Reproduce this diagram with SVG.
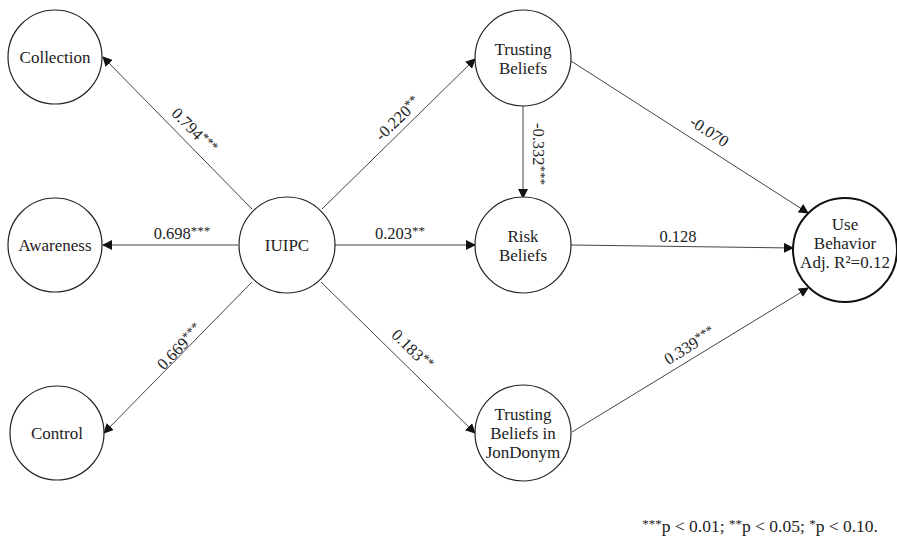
<svg xmlns="http://www.w3.org/2000/svg" width="897" height="540" viewBox="0 0 897 540">
<defs>
<marker id="arr" markerWidth="10" markerHeight="10" refX="9" refY="5" orient="auto" markerUnits="userSpaceOnUse">
<path d="M0,0 L10,5 L0,10 z" fill="#111"/>
</marker>
<style>
.node{fill:#fff;stroke:#222;stroke-width:1.2}
.ub{fill:#fff;stroke:#111;stroke-width:2}
text{font-family:'Liberation Serif','Times New Roman',serif}
.nt{font-size:17px;fill:#222;text-anchor:middle}
.edge{stroke:#444;stroke-width:1;fill:none;marker-end:url(#arr)}
.lbl{font-size:16.5px;fill:#222;text-anchor:middle}
.st{font-size:13px}
.fn{font-size:17.5px;fill:#222;text-anchor:end}
</style>
</defs>
<rect width="897" height="540" fill="#fff"/>
<g id="connectors">
<line class="edge" x1="252" y1="209" x2="103" y2="57"/>
<line class="edge" x1="238" y1="245" x2="103" y2="245"/>
<line class="edge" x1="252" y1="282" x2="104" y2="433"/>
<line class="edge" x1="322" y1="209" x2="475" y2="59"/>
<line class="edge" x1="335" y1="245" x2="475" y2="245"/>
<line class="edge" x1="321" y1="282" x2="475" y2="433"/>
<line class="edge" x1="523" y1="106" x2="523" y2="198"/>
<line class="edge" x1="571" y1="61" x2="808" y2="213"/>
<line class="edge" x1="571" y1="245" x2="793" y2="248"/>
<line class="edge" x1="572" y1="432" x2="808" y2="288"/>
<g id="labels">
<text class="lbl" transform="translate(194,131) rotate(45.6)" dy="5">0.794<tspan class="st" dy="-4">***</tspan></text>
<text class="lbl" x="182" y="239">0.698<tspan class="st" dy="-4">***</tspan></text>
<text class="lbl" transform="translate(180,347) rotate(-45.6)" dy="5">0.669<tspan class="st" dy="-4">***</tspan></text>
<text class="lbl" transform="translate(398,119) rotate(-44)" dy="5">-0.220<tspan class="st" dy="-4">**</tspan></text>
<text class="lbl" x="400" y="239">0.203<tspan class="st" dy="-4">**</tspan></text>
<text class="lbl" transform="translate(412,350) rotate(44.4)" dy="5">0.183<tspan class="st" dy="-4">**</tspan></text>
<text class="lbl" transform="translate(538,154) rotate(90)" dy="5">-0.332<tspan class="st" dy="-4">***</tspan></text>
<text class="lbl" transform="translate(709,132) rotate(33)" dy="5">-0.070</text>
<text class="lbl" x="678" y="242">0.128</text>
<text class="lbl" transform="translate(690,346) rotate(-31.7)" dy="5">0.339<tspan class="st" dy="-4">***</tspan></text>
</g>
</g>
<g id="collection"><circle class="node" cx="55" cy="57" r="47"/><text class="nt" x="55" y="63">Collection</text></g>
<g id="awareness"><circle class="node" cx="55" cy="245" r="47"/><text class="nt" x="55" y="251">Awareness</text></g>
<g id="control"><circle class="node" cx="57" cy="433" r="47"/><text class="nt" x="57" y="439">Control</text></g>
<g id="iuipc"><circle class="node" cx="287" cy="245" r="48"/><text class="nt" x="287" y="251">IUIPC</text></g>
<g id="trusting"><circle class="node" cx="523" cy="58" r="48"/><text class="nt" x="523" y="55">Trusting</text><text class="nt" x="523" y="74">Beliefs</text></g>
<g id="risk"><circle class="node" cx="523" cy="245" r="48"/><text class="nt" x="523" y="242">Risk</text><text class="nt" x="523" y="261">Beliefs</text></g>
<g id="jondonym"><circle class="node" cx="523" cy="433" r="48"/><text class="nt" x="523" y="420">Trusting</text><text class="nt" x="523" y="439">Beliefs in</text><text class="nt" x="523" y="458">JonDonym</text></g>
<g id="use"><circle class="ub" cx="845" cy="250" r="52"/><text class="nt" x="845" y="230">Use</text><text class="nt" x="845" y="249">Behavior</text><text class="nt" x="845" y="268">Adj. R²=0.12</text></g>
<text class="fn" x="878" y="532"><tspan class="st" dy="-4">***</tspan><tspan dy="4">p &lt; 0.01; </tspan><tspan class="st" dy="-4">**</tspan><tspan dy="4">p &lt; 0.05; </tspan><tspan class="st" dy="-4">*</tspan><tspan dy="4">p &lt; 0.10.</tspan></text>
</svg>
